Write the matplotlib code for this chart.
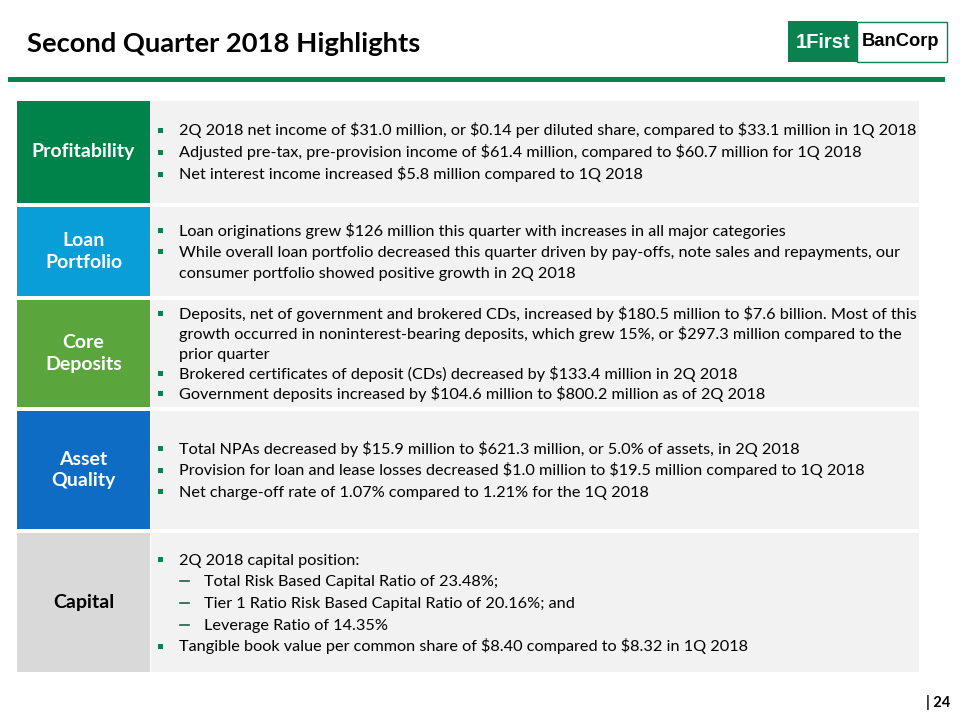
import matplotlib
matplotlib.use('Agg')
import matplotlib.pyplot as plt
from matplotlib.patches import Rectangle

# slide texts
title = 'Second Quarter 2018 Highlights'
page_no = '| 24'
logo_left, logo_right = '1First', 'BanCorp'

categories = ['Profitability', 'Loan\nPortfolio', 'Core\nDeposits', 'Asset\nQuality', 'Capital']

# (marker, text): 'sq' = square bullet, 'dash' = sub bullet, '' = wrapped line
profitability = [
    ('sq', '2Q 2018 net income of $31.0 million, or $0.14 per diluted share, compared to $33.1 million in 1Q 2018'),
    ('sq', 'Adjusted pre-tax, pre-provision income of $61.4 million, compared to $60.7 million for 1Q 2018'),
    ('sq', 'Net interest income increased $5.8 million compared to 1Q 2018'),
]
loan_portfolio = [
    ('sq', 'Loan originations grew $126 million this quarter with increases in all major categories'),
    ('sq', 'While overall loan portfolio decreased this quarter driven by pay-offs, note sales and repayments, our'),
    ('', 'consumer portfolio showed positive growth in 2Q 2018'),
]
core_deposits = [
    ('sq', 'Deposits, net of government and brokered CDs, increased by $180.5 million to $7.6 billion. Most of this'),
    ('', 'growth occurred in noninterest-bearing deposits, which grew 15%, or $297.3 million compared to the'),
    ('', 'prior quarter'),
    ('sq', 'Brokered certificates of deposit (CDs) decreased by $133.4 million in 2Q 2018'),
    ('sq', 'Government deposits increased by $104.6 million to $800.2 million as of 2Q 2018'),
]
asset_quality = [
    ('sq', 'Total NPAs decreased by $15.9 million to $621.3 million, or 5.0% of assets, in 2Q 2018'),
    ('sq', 'Provision for loan and lease losses decreased $1.0 million to $19.5 million compared to 1Q 2018'),
    ('sq', 'Net charge-off rate of 1.07% compared to 1.21% for the 1Q 2018'),
]
capital = [
    ('sq', '2Q 2018 capital position:'),
    ('dash', 'Total Risk Based Capital Ratio of 23.48%;'),
    ('dash', 'Tier 1 Ratio Risk Based Capital Ratio of 20.16%; and'),
    ('dash', 'Leverage Ratio of 14.35%'),
    ('sq', 'Tangible book value per common share of $8.40 compared to $8.32 in 1Q 2018'),
]
bullets = [profitability, loan_portfolio, core_deposits, asset_quality, capital]

# layout / style (pixels, y down)
row_top = [101, 207, 300, 411, 533]
row_bot = [203, 296, 407, 529, 672]
line_gap = [22, 21, 20, 21.5, 21.75]
label_bg = ['#00834a', '#0a9ed9', '#5aa63d', '#0e6cc4', '#d9d9d9']
label_fg = ['white', 'white', 'white', 'white', 'black']
green = '#0a8250'
body_font = 'Lato'
body_size = 11.7

plt.rcParams['text.parse_math'] = False

fig = plt.figure(figsize=(9.6, 7.2), dpi=100)
ax = fig.add_axes([0, 0, 1, 1])
ax.set_xlim(0, 960)
ax.set_ylim(720, 0)
ax.axis('off')

# header
ax.text(27, 44, title, fontsize=19.7, fontweight='bold', family=body_font,
        va='center', ha='left', color='black')
ax.add_patch(Rectangle((8, 77), 937, 5, color=green, lw=0))

# logo
ax.add_patch(Rectangle((788, 21), 69, 41, color=green, lw=0))
ax.add_patch(Rectangle((857, 21.5), 89.5, 40, facecolor='white', edgecolor=green, lw=1))
ax.text(823.5, 42, logo_left, fontsize=14.5, fontweight='bold', family='Liberation Sans',
        color='white', ha='center', va='center')
ax.text(900.5, 42, logo_right, fontsize=13.2, fontweight='bold', family='Liberation Sans',
        color='black', ha='center', va='center')

# table rows
for i, cat in enumerate(categories):
    top, bot = row_top[i], row_bot[i]
    h = bot - top
    ax.add_patch(Rectangle((17, top), 133, h, color=label_bg[i], lw=0))
    ax.add_patch(Rectangle((151, top), 768, h, color='#f2f2f2', lw=0))
    ax.text(83.5, (top + bot) / 2, cat, fontsize=14, fontweight='bold', family=body_font,
            color=label_fg[i], ha='center', va='center', linespacing=1.3)

    lines = bullets[i]
    mid = (top + bot) / 2
    y0 = mid - line_gap[i] * (len(lines) - 1) / 2
    for j, (mark, txt) in enumerate(lines):
        y = y0 + j * line_gap[i]
        x = 179
        if mark == 'sq':
            ax.add_patch(Rectangle((158, y - 2.5), 5, 5, color=green, lw=0))
        elif mark == 'dash':
            ax.plot([180, 189], [y + 0.5, y + 0.5], color='#1f5f44', lw=1.2)
            x = 204
        ax.text(x, y + 5.5, txt, fontsize=body_size, family=body_font, color='black',
                ha='left', va='baseline')

# page number
ax.text(950, 703, page_no, fontsize=10.5, fontweight='bold', family=body_font,
        ha='right', va='center', color='black')

fig.savefig('out.png', dpi=100)
